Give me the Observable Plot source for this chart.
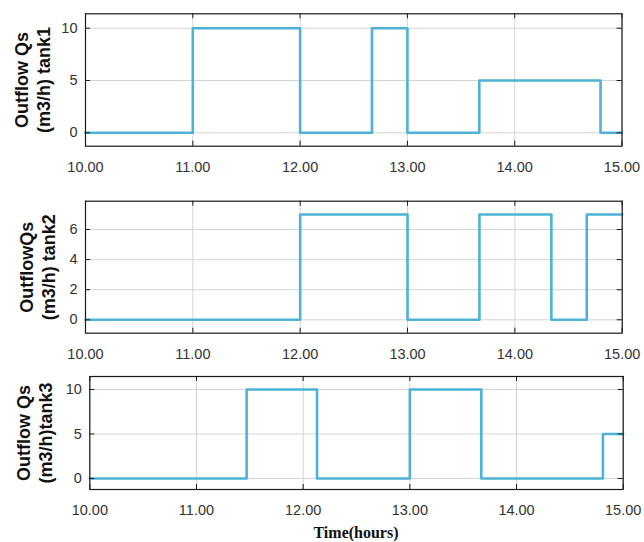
<!DOCTYPE html>
<html>
<head>
<meta charset="utf-8">
<script src="https://cdn.jsdelivr.net/npm/d3@7"></script>
<script src="https://cdn.jsdelivr.net/npm/@observablehq/plot@0.6"></script>
<style>
  html, body { margin: 0; padding: 0; background: #fff; }
  #wrap { position: relative; width: 644px; height: 542px; background: #fff; overflow: hidden; }
  #wrap svg { position: absolute; left: 0; }
  #xlabel { position: absolute; top: 522px; left: 256px; width: 200px; text-align: center;
    font-family: "Liberation Serif", "Times New Roman", serif; font-weight: bold; font-size: 16px; color: #111; line-height: 22px; }
</style>
</head>
<body>
<div id="wrap"><div id="xlabel">Time(hours)</div></div>
<script>
// ---- data ----
const xTicks = [10, 11, 12, 13, 14, 15];

const tank1Times  = [10, 11, 12, 12.67, 13, 13.67, 14.8, 15];
const tank1Values = [0, 10, 0, 10, 0, 5, 0, 0];
const tank1YTicks = [0, 5, 10];
const tank1Label  = "Outflow Qs\n(m3/h) tank1";

const tank2Times  = [10, 12, 13, 13.67, 14.34, 14.67, 15];
const tank2Values = [0, 7, 0, 7, 0, 7, 7];
const tank2YTicks = [0, 2, 4, 6];
const tank2Label  = "OutflowQs\n(m3/h) tank2";

const tank3Times  = [10, 11.47, 12.13, 13, 13.67, 14.81, 15];
const tank3Values = [0, 10, 0, 10, 0, 5, 5];
const tank3YTicks = [0, 5, 10];
const tank3Label  = "Outflow Qs\n(m3/h)tank3";

// ---- layout ----
const panels = [
  {times: tank1Times, values: tank1Values, yTicks: tank1YTicks, label: tank1Label,
   yDomain: [-1.28, 11.38], top: 0, height: 185, mt: 13.3, mb: 39.3, ml: 85, mr: 22.5, pad: 16, labelX: 31.5},
  {times: tank2Times, values: tank2Values, yTicks: tank2YTicks, label: tank2Label,
   yDomain: [-0.89, 7.88], top: 185, height: 180, mt: 15.7, mb: 32.3, ml: 85, mr: 22.3, pad: 15.5, labelX: 36},
  {times: tank3Times, values: tank3Values, yTicks: tank3YTicks, label: tank3Label,
   yDomain: [-1.24, 11.46], top: 365, height: 177, mt: 11, mb: 53, ml: 89.3, mr: 21.3, pad: 15, labelX: 33.5}
];

const W = 644, tickLen = 5;
const wrap = document.getElementById("wrap");

for (const p of panels) {
  const data = p.times.map((t, i) => ({t, v: p.values[i]}));
  const plotH = p.height - p.mt - p.mb;
  const plotW = W - p.ml - p.mr;
  const svg = Plot.plot({
    width: W,
    height: p.height,
    marginTop: p.mt,
    marginBottom: p.mb,
    marginLeft: p.ml,
    marginRight: p.mr,
    style: {fontFamily: "'Liberation Sans', Arial, sans-serif", fontSize: "14.5px", color: "#333", background: "transparent", overflow: "visible"},
    x: {domain: [10, 15], label: null},
    y: {domain: p.yDomain, label: null},
    marks: [
      Plot.gridX(xTicks, {stroke: "#d4d4d4", strokeOpacity: 1}),
      Plot.gridY(p.yTicks, {stroke: "#d4d4d4", strokeOpacity: 1}),
      Plot.line(data, {x: "t", y: "v", curve: "step-after", stroke: "#4db3d6", strokeWidth: 2.6}),
      Plot.frame({stroke: "#1a1a1a", strokeWidth: 1.2}),
      Plot.tickX(xTicks, {x: d => d, insetTop: plotH - tickLen, stroke: "#1a1a1a"}),
      Plot.tickX(xTicks, {x: d => d, insetBottom: plotH - tickLen, stroke: "#1a1a1a"}),
      Plot.tickY(p.yTicks, {y: d => d, insetRight: plotW - tickLen, stroke: "#1a1a1a"}),
      Plot.tickY(p.yTicks, {y: d => d, insetLeft: plotW - tickLen, stroke: "#1a1a1a"}),
      Plot.axisX(xTicks, {tickSize: 0, tickPadding: p.pad, tickFormat: d3.format(".2f"), label: null, fontSize: 14.5}),
      Plot.axisY(p.yTicks, {tickSize: 0, tickPadding: 8, tickFormat: d3.format("d"), label: null, fontSize: 14.5}),
      Plot.text([p.label], {text: d => d, frameAnchor: "left", textAnchor: "middle", lineAnchor: "middle", rotate: -90, dx: p.labelX - p.ml,
        fontSize: 18, fontWeight: "bold", lineHeight: 1.22, fill: "#111"})
    ]
  });
  svg.style.top = p.top + "px";
  wrap.appendChild(svg);
}
</script>
</body>
</html>
